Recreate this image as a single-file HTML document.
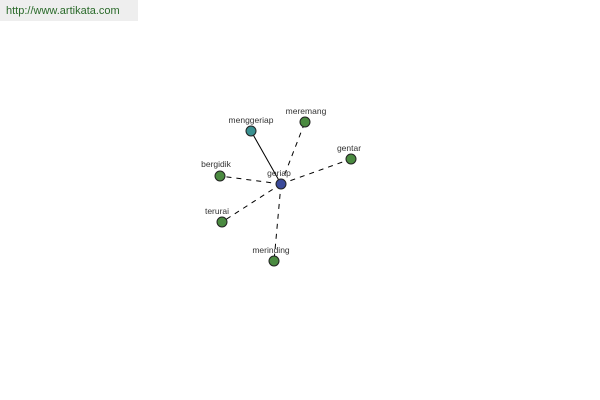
<!DOCTYPE html>
<html><head><style>
body{margin:0;width:600px;height:400px;background:#fff;overflow:hidden;position:relative;font-family:"Liberation Sans",sans-serif}
.hd{position:absolute;left:0;top:0;width:138px;height:21px;background:#eeeeee;font-size:11px;color:#2a6a2a;line-height:22px;padding-left:6px;box-sizing:border-box}
</style></head><body>
<div class="hd">http://www.artikata.com</div>
<svg width="600" height="400" style="position:absolute;left:0;top:0" font-family="Liberation Sans, sans-serif" font-size="8.5" fill="#333">
<g stroke="#000" stroke-width="1" stroke-dasharray="5,5">
<line x1="281" y1="184" x2="305" y2="122"/>
<line x1="281" y1="184" x2="351" y2="159"/>
<line x1="281" y1="184" x2="220" y2="176"/>
<line x1="281" y1="184" x2="222" y2="222"/>
<line x1="281" y1="184" x2="274" y2="261"/>
</g>
<line x1="281" y1="184" x2="251" y2="131" stroke="#000"/>
<g stroke="#222" stroke-width="1">
<circle cx="251" cy="131" r="5" fill="#3a9090"/>
<circle cx="305" cy="122" r="5" fill="#4a8a40"/>
<circle cx="351" cy="159" r="5" fill="#4a8a40"/>
<circle cx="220" cy="176" r="5" fill="#4a8a40"/>
<circle cx="222" cy="222" r="5" fill="#4a8a40"/>
<circle cx="274" cy="261" r="5" fill="#4a8a40"/>
<circle cx="281" cy="184" r="5" fill="#3a4a9a"/>
</g>
<g text-anchor="middle" fill="#333">
<text x="251" y="123">menggeriap</text>
<text x="306" y="114">meremang</text>
<text x="349" y="151">gentar</text>
<text x="216" y="167">bergidik</text>
<text x="217" y="214">terurai</text>
<text x="271" y="253">merinding</text>
<text x="279" y="176">geriap</text>
</g>
</svg>
</body></html>
